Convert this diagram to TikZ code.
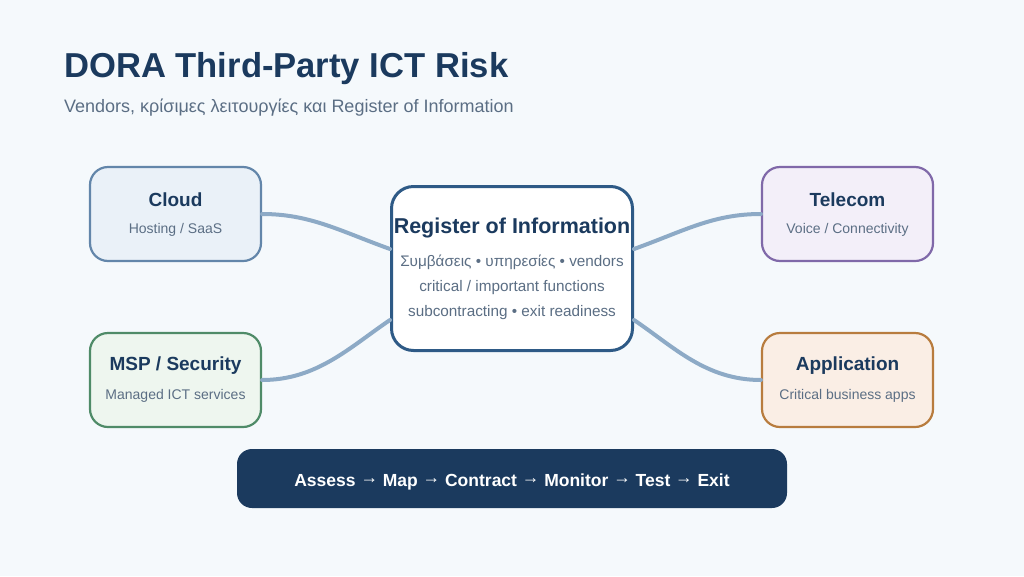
\documentclass[tikz,border=0pt]{standalone}
\usepackage{fontspec}
\setmainfont{Liberation Sans}
\usetikzlibrary{positioning}
\definecolor{bgc}{HTML}{F5F9FC}
\definecolor{navy}{HTML}{1B3A5E}
\definecolor{slate}{HTML}{5B6E84}
\definecolor{linkc}{HTML}{8DAAC6}
\definecolor{regb}{HTML}{2E5A86}
\definecolor{cloudf}{HTML}{EAF1F8}\definecolor{cloudd}{HTML}{6386AA}
\definecolor{mspf}{HTML}{EEF6EF}\definecolor{mspd}{HTML}{4F8B68}
\definecolor{telef}{HTML}{F3EFF9}\definecolor{teled}{HTML}{8069A9}
\definecolor{appf}{HTML}{FAEEE5}\definecolor{appd}{HTML}{B87C3E}
\newcommand{\stepto}{ \raisebox{2.5pt}{→} }

\begin{document}
\begin{tikzpicture}[x=1pt,y=-1pt,
  vendor/.style={line width=2.2pt, rounded corners=18pt, minimum width=171pt, minimum height=94pt},
  vtitle/.style={font=\fontsize{19}{22}\selectfont\bfseries, text=navy},
  vsub/.style={font=\fontsize{14}{17}\selectfont, text=slate},
  rline/.style={font=\fontsize{15.3}{18}\selectfont, text=slate},
  link/.style={draw=linkc, line width=4pt, line cap=round}]
\fill[bgc] (0,0) rectangle (1024,576);

% heading
\node[anchor=base west, inner sep=0, font=\fontsize{34.6}{40}\selectfont\bfseries, text=navy] (title) at (64,77) {DORA Third-Party ICT Risk};
\node[anchor=base west, inner sep=0, font=\fontsize{18}{21}\selectfont, text=slate] (subtitle) at (64,112) {Vendors, κρίσιμες λειτουργίες και Register of Information};

% register
\node[draw=regb, fill=white, line width=3pt, rounded corners=22pt, minimum width=241pt, minimum height=164pt] (register) at (512,268.5) {};
\node[font=\fontsize{21.5}{25}\selectfont\bfseries, text=navy] (regT) at (512,228) {Register of Information};
\node[rline] (reg1) at (512,262) {Συμβάσεις • υπηρεσίες • vendors};
\node[rline] (reg2) at (512,288) {critical / important functions};
\node[rline] (reg3) at (512,313) {subcontracting • exit readiness};

% vendors
\node[vendor, draw=cloudd, fill=cloudf] (cloud) at (175.5,214) {};
\node[vtitle] (cloudT) at (175.5,199.5) {Cloud};
\node[vsub] (cloudS) at (175.5,230) {Hosting / SaaS};

\node[vendor, draw=mspd, fill=mspf] (msp) at (175.5,380) {};
\node[vtitle] (mspT) at (175.5,365.5) {MSP / Security};
\node[vsub] (mspS) at (175.5,396) {Managed ICT services};

\node[vendor, draw=teled, fill=telef] (telecom) at (847.5,214) {};
\node[vtitle] (telecomT) at (847.5,199.5) {Telecom};
\node[vsub] (telecomS) at (847.5,230) {Voice / Connectivity};

\node[vendor, draw=appd, fill=appf] (app) at (847.5,380) {};
\node[vtitle] (appT) at (847.5,365.5) {Application};
\node[vsub] (appS) at (847.5,396) {Critical business apps};

% links
\draw[link] (cloud.east) .. controls +(48,0) and +(-50,-18) .. ([yshift=19.5pt]register.west);
\draw[link] (msp.east) .. controls +(55,0) and +(-40,27) .. ([yshift=-51.5pt]register.west);
\draw[link] (telecom.west) .. controls +(-48,0) and +(50,-18) .. ([yshift=19.5pt]register.east);
\draw[link] (app.west) .. controls +(-55,0) and +(40,27) .. ([yshift=-51.5pt]register.east);

% lifecycle
\node[fill=navy, rounded corners=15pt, minimum width=550pt, minimum height=59pt] (steps) at (512,478.5) {};
\node[anchor=base, text=white, font=\fontsize{17.5}{20}\selectfont\bfseries] (stepsT) at (512,486) {Assess\stepto Map\stepto Contract\stepto Monitor\stepto Test\stepto Exit};
\end{tikzpicture}
\end{document}
